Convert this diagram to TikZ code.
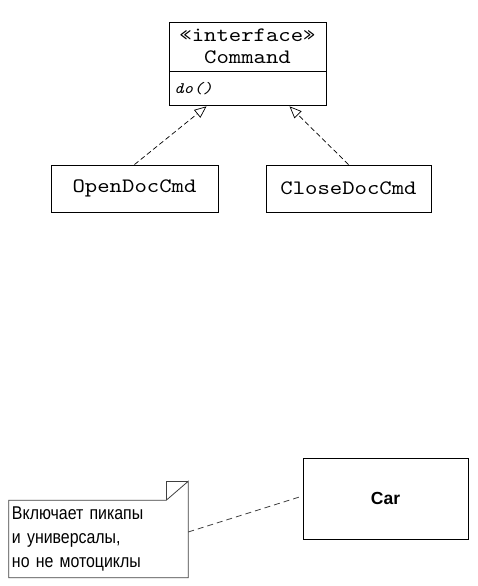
\documentclass[tikz,border=0pt]{standalone}
\usepackage{fontspec}
\setsansfont{Liberation Sans}
\newfontfamily\notefont[FakeStretch=0.86]{Liberation Sans}
\newfontfamily\classfont[FakeStretch=1.15]{lmmono10-regular.otf}
\newfontfamily\opfont[FakeStretch=1.15]{lmmono10-italic.otf}
\usepackage{tikz}
\usetikzlibrary{arrows.meta, positioning}

\begin{document}
\begin{tikzpicture}[x=1pt, y=-1pt, >={Triangle[open, length=12pt, width=10pt]}]

    % --- 1. STILE ---
    \tikzset{
        classbox/.style={draw, line width=0.9pt, inner sep=0pt, fill=white},
        monotext/.style={font=\classfont\fontsize{20.5}{22}\selectfont},
        realize/.style={->, line width=0.7pt, dash pattern=on 5pt off 3pt},
        notelink/.style={line width=0.8pt, black!75, dash pattern=on 6pt off 4pt}
    }
    \useasboundingbox (0,0) rectangle (478,586);

    % --- 2. INTERFACE ---
    \node[classbox, monotext, align=center, minimum width=157pt, minimum height=49pt] (cmd) at (247.5,46.5)
        {\guillemotleft interface\guillemotright\\Command};
    \node[classbox, anchor=north, minimum width=157pt, minimum height=34pt, text width=147pt, align=left,
        font=\opfont\fontsize{16}{18}\selectfont] (cmdops) at (cmd.south) {do()};

    % --- 3. KLASSEN ---
    \node[classbox, monotext, minimum width=167pt, minimum height=47pt] (open) at (134.5,188.5) {OpenDocCmd};
    \node[classbox, monotext, minimum width=165pt, minimum height=47pt] (close) at (348.5,188.5) {CloseDocCmd};

    \coordinate (tipL) at ([xshift=-41pt]cmdops.south);
    \coordinate (tipR) at ([xshift=42pt]cmdops.south);
    \draw[realize] (open.north) -- (tipL);
    \draw[realize] (close.north) -- (tipR);

    % --- 4. CAR + NOTIZ ---
    \node[classbox, minimum width=165pt, minimum height=81pt, font=\sffamily\bfseries\fontsize{17.5}{20}\selectfont]
        (car) at (385.5,498.5) {Car};

    \node[minimum width=179pt, minimum height=77pt, inner xsep=3pt, text width=173pt, align=left,
        font=\notefont\fontsize{18.5}{24}\selectfont] (note) at (98.5,539)
        {Включает пикапы\\и универсалы,\\но не мотоциклы};
    \draw[line width=0.8pt, black!75] (note.north west) -- ([xshift=-22pt]note.north east)
        -- ([yshift=19pt]note.north east) -- (note.south east) -- (note.south west) -- cycle;
    \draw[line width=0.8pt, black!75] ([xshift=-22pt]note.north east) -- ([xshift=-22pt, yshift=19pt]note.north east)
        -- ([yshift=19pt]note.north east);

    \draw[notelink] ([yshift=7pt]note.east) -- ([yshift=2.5pt]car.west);

\end{tikzpicture}
\end{document}
